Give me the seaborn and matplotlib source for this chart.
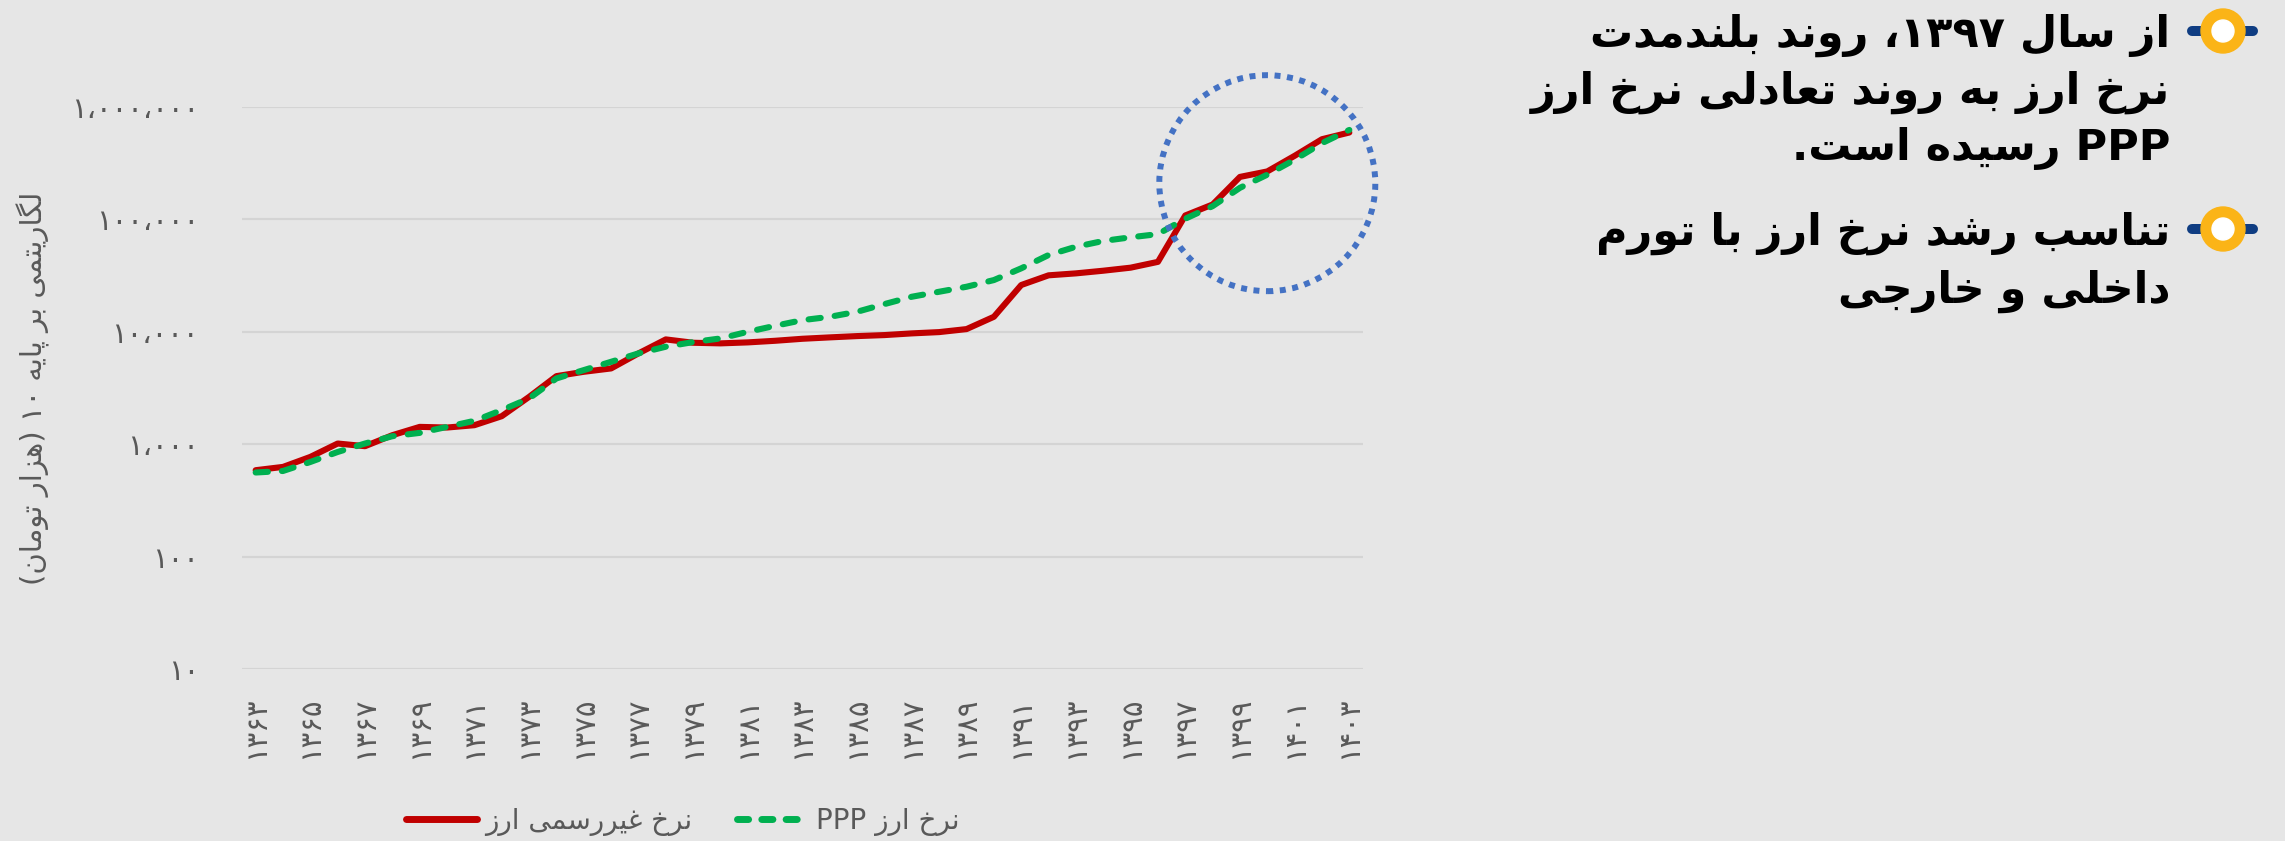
import numpy as np
import pandas as pd
import seaborn as sns
import matplotlib.pyplot as plt
from matplotlib.patches import Circle
from matplotlib.lines import Line2D
from matplotlib.transforms import ScaledTranslation

# ------------------------------------------------------------------
# data (log scale)
# ------------------------------------------------------------------
years = list(range(1363, 1404))
unofficial_rate = [587, 628, 771, 1014, 960, 1203, 1426, 1407, 1476, 1775,
                   2636, 4033, 4408, 4722, 6424, 8557, 7990,
                   7890, 8050, 8320, 8670, 8920, 9160, 9350, 9680, 9940, 10570,
                   13600, 26070, 31800, 33100, 34950, 37200, 41900,
                   108400, 135700, 238800, 267200, 368000, 517000, 593000]
ppp_rate = [560, 578, 695, 853, 1014, 1178, 1261, 1426, 1614, 2010,
            2552, 3847, 4562, 5409, 6424, 7367, 8100,
            8730, 10000, 11310, 12700, 13600, 15080, 17650, 20510, 22720, 25170,
            28860, 36700, 48200, 57100, 64300, 69300, 74000,
            101400, 131200, 191000, 250000, 339500, 477000, 625000]
series_labels = ['نرخ غیررسمی ارز', 'نرخ ارز PPP']
y_ticks = [10, 100, 1000, 10000, 100000, 1000000]
x_ticks = years[::2]
y_label = 'لگاریتمی بر پایه ۱۰ (هزار تومان)'
highlight_year = 1400
highlight_value = 210000

notes = [
    ['از سال ۱۳۹۷، روند بلندمدت', 'نرخ ارز به روند تعادلی نرخ ارز', 'PPP رسیده است.'],
    ['تناسب رشد نرخ ارز با تورم', 'داخلی و خارجی'],
]

# ------------------------------------------------------------------
# tiny persian shaper + bidi (matplotlib has no text shaping)
# ------------------------------------------------------------------
_dual = {'ئ': 0xFE89, 'ب': 0xFE8F, 'ت': 0xFE95, 'ث': 0xFE99, 'ج': 0xFE9D,
         'ح': 0xFEA1, 'خ': 0xFEA5, 'س': 0xFEB1, 'ش': 0xFEB5, 'ص': 0xFEB9,
         'ض': 0xFEBD, 'ط': 0xFEC1, 'ظ': 0xFEC5, 'ع': 0xFEC9, 'غ': 0xFECD,
         'ف': 0xFED1, 'ق': 0xFED5, 'ك': 0xFED9, 'ل': 0xFEDD, 'م': 0xFEE1,
         'ن': 0xFEE5, 'ه': 0xFEE9, 'ي': 0xFEF1, 'پ': 0xFB56, 'چ': 0xFB7A,
         'ک': 0xFB8E, 'گ': 0xFB92, 'ی': 0xFBFC}
_right = {'آ': 0xFE81, 'أ': 0xFE83, 'ؤ': 0xFE85, 'إ': 0xFE87, 'ا': 0xFE8D,
          'ة': 0xFE93, 'د': 0xFEA9, 'ذ': 0xFEAB, 'ر': 0xFEAD, 'ز': 0xFEAF,
          'و': 0xFEED, 'ژ': 0xFB8A}
_mirror = str.maketrans('()', ')(')
_fa_digits = str.maketrans('0123456789', '۰۱۲۳۴۵۶۷۸۹')


def shape(text):
    out = []
    for i, ch in enumerate(text):
        base = _dual.get(ch, _right.get(ch))
        if base is None:
            out.append(ch)
            continue
        prev = text[i - 1] if i > 0 else ''
        nxt = text[i + 1] if i + 1 < len(text) else ''
        jp = prev in _dual
        jn = ch in _dual and (nxt in _dual or nxt in _right)
        form = 3 if (jp and jn) else 1 if jp else 2 if jn else 0
        out.append(chr(base + form))
    return ''.join(out)


def _is_ltr(ch):
    return (ch.isascii() and ch.isalnum()) or ('\u06f0' <= ch <= '\u06f9')


def fa(text):
    s = shape(text)
    runs = []
    for i, ch in enumerate(s):
        # separators between two digits stay inside the number
        ltr = _is_ltr(ch) or (ch in '٬،,' and runs and runs[-1][0]
                             and i + 1 < len(s) and _is_ltr(s[i + 1]))
        if runs and runs[-1][0] == ltr:
            runs[-1][1] += ch
        else:
            runs.append([ltr, ch])
    return ''.join(r if l else r[::-1].translate(_mirror) for l, r in reversed(runs))


def fa_num(v):
    return f'{int(v):,}'.replace(',', '،').translate(_fa_digits)


# ------------------------------------------------------------------
# figure
# ------------------------------------------------------------------
sns.set_theme(style='white')
plt.rcParams['font.family'] = ['DejaVu Sans']

W, H = 2285, 841
bg = '#E6E6E6'
grey = '#595959'
red = '#C00000'
green = '#00B050'

fig = plt.figure(figsize=(W / 100, H / 100), dpi=100, facecolor=bg)
ax = fig.add_axes([242 / W, 1 - 669 / H, (1363 - 242) / W, (669 - 107) / H])
ax.set_facecolor('none')

df = pd.DataFrame({
    'year': years * 2,
    'rate': unofficial_rate + ppp_rate,
    'series': [series_labels[0]] * len(years) + [series_labels[1]] * len(years),
})

sns.lineplot(data=df, x='year', y='rate', hue='series', style='series',
             palette={series_labels[0]: red, series_labels[1]: green},
             dashes={series_labels[0]: '', series_labels[1]: (2, 2.3)},
             linewidth=4.4, legend=False, ax=ax)
for ln in ax.get_lines():
    ln.set_dash_capstyle('round')
    ln.set_solid_joinstyle('round')

ax.set_yscale('log')
ax.set_ylim(10, 1000000)
ax.set_xlim(years[0] - 0.5, years[-1] + 0.5)
ax.set_yticks(y_ticks)
ax.set_yticklabels([fa_num(v) for v in y_ticks])
ax.yaxis.set_minor_locator(plt.NullLocator())
ax.set_xticks(x_ticks)
ax.set_xticklabels([str(y).translate(_fa_digits) for y in x_ticks], rotation=90)
ax.tick_params(axis='y', length=0, pad=31, labelsize=21, labelcolor=grey)
ax.tick_params(axis='x', length=0, pad=20, labelsize=21, labelcolor=grey)
ax.set_xlabel('')
ax.set_ylabel('')
ax.grid(axis='y', color='#D4D4D4', linewidth=1.6)
ax.grid(axis='x', visible=False)
for sp in ax.spines.values():
    sp.set_visible(False)

fig.text(33 / W, 1 - 388 / H, fa(y_label), rotation=90, ha='center', va='center',
         fontsize=21, color=grey)

# highlight circle around the last years
circ = Circle((0, 0), radius=1.08, fill=False, ec='#4472C4', lw=4.3,
              linestyle=(0, (1, 1.1)),
              transform=fig.dpi_scale_trans + ScaledTranslation(highlight_year, highlight_value, ax.transData))
circ.set_capstyle('butt')
fig.add_artist(circ)

# legend
handles = [Line2D([], [], color=red, lw=5, solid_capstyle='round'),
           Line2D([], [], color=green, lw=5, dashes=(1.6, 1.9), dash_capstyle='round')]
fig.legend(handles, [fa(s) for s in series_labels], loc='center', ncol=2,
           bbox_to_anchor=(683 / W, 1 - 821 / H), frameon=False, fontsize=20,
           labelcolor=grey, handlelength=2.55, handletextpad=0.3, columnspacing=1.6)

# right-hand notes with bullet icons
ov = fig.add_axes([0, 0, 1, 1])
ov.set_xlim(0, W)
ov.set_ylim(H, 0)
ov.axis('off')
ov.patch.set_alpha(0)
line_y = [[35, 92, 148], [233, 291]]
for block, ys in zip(notes, line_y):
    for txt, yy in zip(block, ys):
        ov.text(2170, yy, fa(txt), ha='right', va='center', fontsize=31,
                fontweight='bold', color='black')
    by = ys[0] - 4
    ov.plot([2192, 2253], [by, by], color='#0F3D82', lw=7.2, solid_capstyle='round')
    ov.add_patch(Circle((2223, by), 22, color='#FBB417', zorder=3))
    ov.add_patch(Circle((2223, by), 11, color='white', zorder=4))

fig.savefig('out.png', dpi=100, facecolor=bg)
